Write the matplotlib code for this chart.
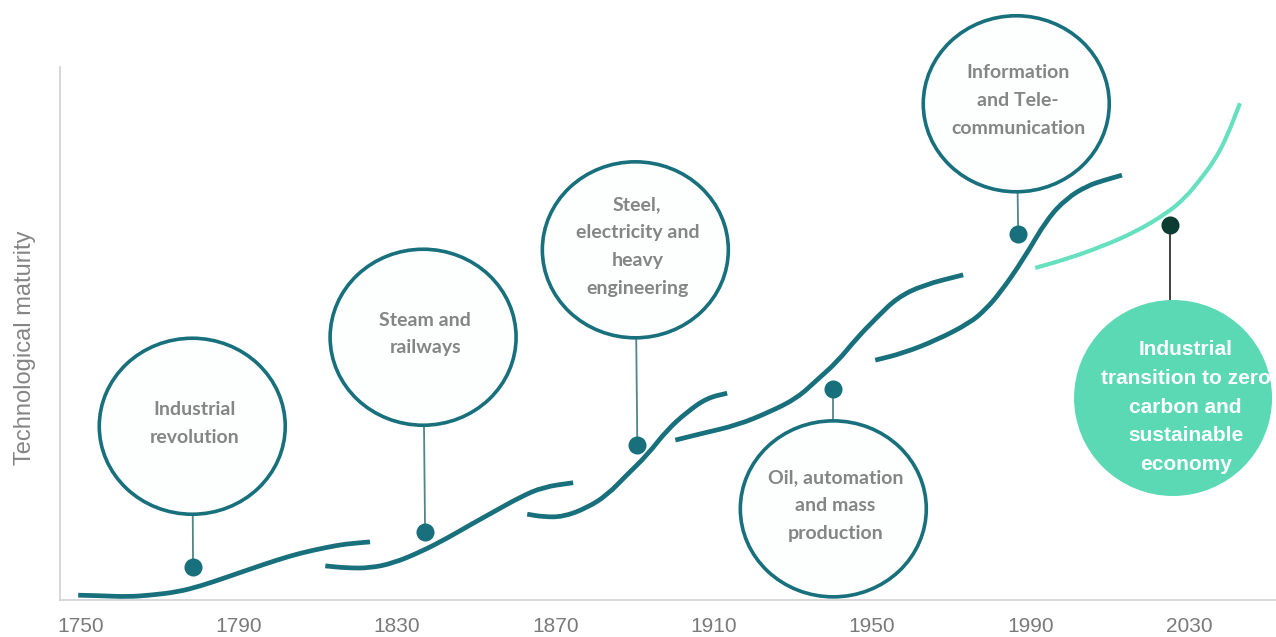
#!/usr/bin/env python3
"""Technology waves: S-curves of technological maturity since 1750."""

import matplotlib
matplotlib.use("Agg")
import matplotlib.pyplot as plt
from matplotlib.patches import Ellipse, PathPatch
from matplotlib.path import Path

# ---- data (years vs. maturity index 0-100) ---------------------------------
wave1_year = [1749.5, 1755.1, 1761.9, 1767.7, 1774.5, 1780.3, 1787.1, 1792.9,
              1799.7, 1805.6, 1812.4, 1816.9, 1823.2]
wave1_mat = [0.9, 0.8, 0.6, 0.9, 1.5, 2.6, 4.3, 5.8, 7.5, 8.8, 9.9, 10.5, 10.9]

wave2_year = [1811.9, 1817.4, 1823.2, 1829.0, 1835.9, 1842.7, 1848.5, 1855.3,
              1861.1, 1866.9, 1874.5]
wave2_mat = [6.4, 6.0, 6.0, 6.9, 9.0, 11.6, 14.1, 16.9, 19.3, 21.2, 22.0]

wave3_year = [1862.9, 1866.9, 1872.0, 1878.0, 1883.1, 1888.1, 1893.2, 1898.2,
              1903.3, 1908.3, 1913.4]
wave3_mat = [16.1, 15.6, 15.6, 17.3, 19.7, 23.5, 27.2, 31.9, 35.3, 37.9, 38.8]

wave4_year = [1900.3, 1907.3, 1915.9, 1924.2, 1931.1, 1936.1, 1941.2, 1946.2,
              1951.3, 1956.3, 1962.9, 1973.0]
wave4_mat = [30.0, 31.3, 32.8, 35.3, 37.9, 41.3, 44.7, 49.2, 53.1, 56.7, 59.1, 61.0]

wave5_year = [1950.8, 1957.8, 1966.4, 1974.7, 1978.5, 1982.3, 1988.1, 1994.2,
              1999.2, 2004.3, 2008.8, 2013.1]
wave5_mat = [45.0, 46.3, 48.8, 52.0, 54.4, 57.6, 63.8, 71.5, 75.4, 77.7, 78.8, 79.7]

future_year = [1991.2, 1999.2, 2007.6, 2016.4, 2024.5, 2029.0, 2032.8, 2036.6,
               2039.6, 2042.9]
future_mat = [62.3, 64.0, 66.2, 69.0, 72.6, 75.4, 78.8, 82.6, 86.9, 93.2]

wave_labels = [
    "Industrial\nrevolution",
    "Steam and\nrailways",
    "Steel,\nelectricity and\nheavy\nengineering",
    "Oil, automation\nand mass\nproduction",
    "Information\nand Tele-\ncommunication",
]
marker_year = [1778.5, 1837.1, 1890.7, 1940.2, 1986.9]
marker_mat = [6.2, 12.8, 29.1, 39.6, 68.7]

future_label = "Industrial\ntransition to zero\ncarbon and\nsustainable\neconomy"
future_marker_year = 2025.3
future_marker_mat = 70.4

tick_years = [1750, 1790, 1830, 1870, 1910, 1950, 1990, 2030]

# ---- layout ----------------------------------------------------------------
bubble_centers = [(1778.3, 32.6), (1836.6, 49.3), (1890.2, 65.7),
                  (1940.2, 17.1), (1986.4, 93.1)]
future_center = (2026.0, 37.9)

TEAL = "#17707b"
STEM = "#4f868b"
GREEN = "#5bd9b5"
GREEN_LINE = "#66e0bf"
DARK = "#0d3d32"
GREY_TEXT = "#858585"


def smooth_curve(ax, xs, ys, color, lw):
    # quadratic bezier through the midpoints, the read points act as controls
    pts = list(zip(xs, ys))
    verts = [pts[0]]
    codes = [Path.MOVETO]
    mid = lambda a, b: ((a[0] + b[0]) / 2, (a[1] + b[1]) / 2)
    verts.append(mid(pts[0], pts[1]))
    codes.append(Path.LINETO)
    for i in range(1, len(pts) - 1):
        verts += [pts[i], mid(pts[i], pts[i + 1])]
        codes += [Path.CURVE3, Path.CURVE3]
    verts.append(pts[-1])
    codes.append(Path.LINETO)
    ax.add_patch(PathPatch(Path(verts, codes), facecolor="none",
                           edgecolor=color, lw=lw, capstyle="butt",
                           zorder=2, clip_on=False))


def main():
    fig = plt.figure(figsize=(12.76, 6.37), dpi=100)
    ax = fig.add_axes([60 / 1276, 37 / 637, 1216 / 1276, 533 / 637])
    ax.set_xlim(1744.9, 2052.0)
    ax.set_ylim(0, 100)

    for side in ("top", "right"):
        ax.spines[side].set_visible(False)
    for side in ("left", "bottom"):
        ax.spines[side].set_color("#d4d4d4")
        ax.spines[side].set_linewidth(1.3)
    ax.set_yticks([])
    ax.set_xticks(tick_years)
    ax.tick_params(axis="x", length=0, pad=12, labelsize=15,
                   labelcolor="#7a7a7a")
    for lab in ax.get_xticklabels():
        lab.set_family(["Liberation Sans", "DejaVu Sans"])

    fig.text(25 / 1276, 1 - 348 / 637, "Technological maturity",
             rotation=90, ha="center", va="center", fontsize=17,
             color="#858585", family=["Liberation Sans", "DejaVu Sans"])

    waves = [(wave1_year, wave1_mat), (wave2_year, wave2_mat),
             (wave3_year, wave3_mat), (wave4_year, wave4_mat),
             (wave5_year, wave5_mat)]
    for xs, ys in waves:
        smooth_curve(ax, xs, ys, TEAL, 3.4)
    smooth_curve(ax, future_year, future_mat, GREEN_LINE, 3.0)

    # white bubbles with stems to the markers
    bw, bh = 186 / 3.96, 176 / 5.33
    for (cx, cy), mx, my, text in zip(bubble_centers, marker_year,
                                      marker_mat, wave_labels):
        ax.plot([mx, cx], [my, cy], color=STEM, lw=1.3, zorder=1,
                clip_on=False)
        ax.add_patch(Ellipse((cx, cy), bw, bh, facecolor="#fdfefe",
                             edgecolor=TEAL, lw=2.6, zorder=3,
                             clip_on=False))
        ax.text(cx + 0.5, cy + 0.6, text, ha="center", va="center",
                fontsize=14, fontweight="bold", color=GREY_TEXT,
                linespacing=1.78, family=["Lato", "DejaVu Sans"],
                zorder=4, clip_on=False)
        ax.plot(mx, my, "o", color=TEAL, ms=13, mec="none", zorder=4,
                clip_on=False)

    # future transition bubble
    fx, fy = future_center
    ax.plot([future_marker_year, future_marker_year],
            [future_marker_mat, fy], color="#333333", lw=1.3, zorder=1)
    ax.add_patch(Ellipse((fx, fy), 198 / 3.96, 196 / 5.33,
                         facecolor=GREEN, edgecolor="none", zorder=3,
                         clip_on=False))
    ax.text(fx + 3.2, fy - 1.7, future_label, ha="center", va="center",
            fontsize=15, fontweight="bold", color="white",
            linespacing=1.65, family=["Liberation Sans", "DejaVu Sans"],
            zorder=4, clip_on=False)
    ax.plot(future_marker_year, future_marker_mat, "o", color=DARK, ms=13,
            mec="none", zorder=4)

    fig.savefig("out.png", dpi=100)
    plt.close(fig)


if __name__ == "__main__":
    main()
